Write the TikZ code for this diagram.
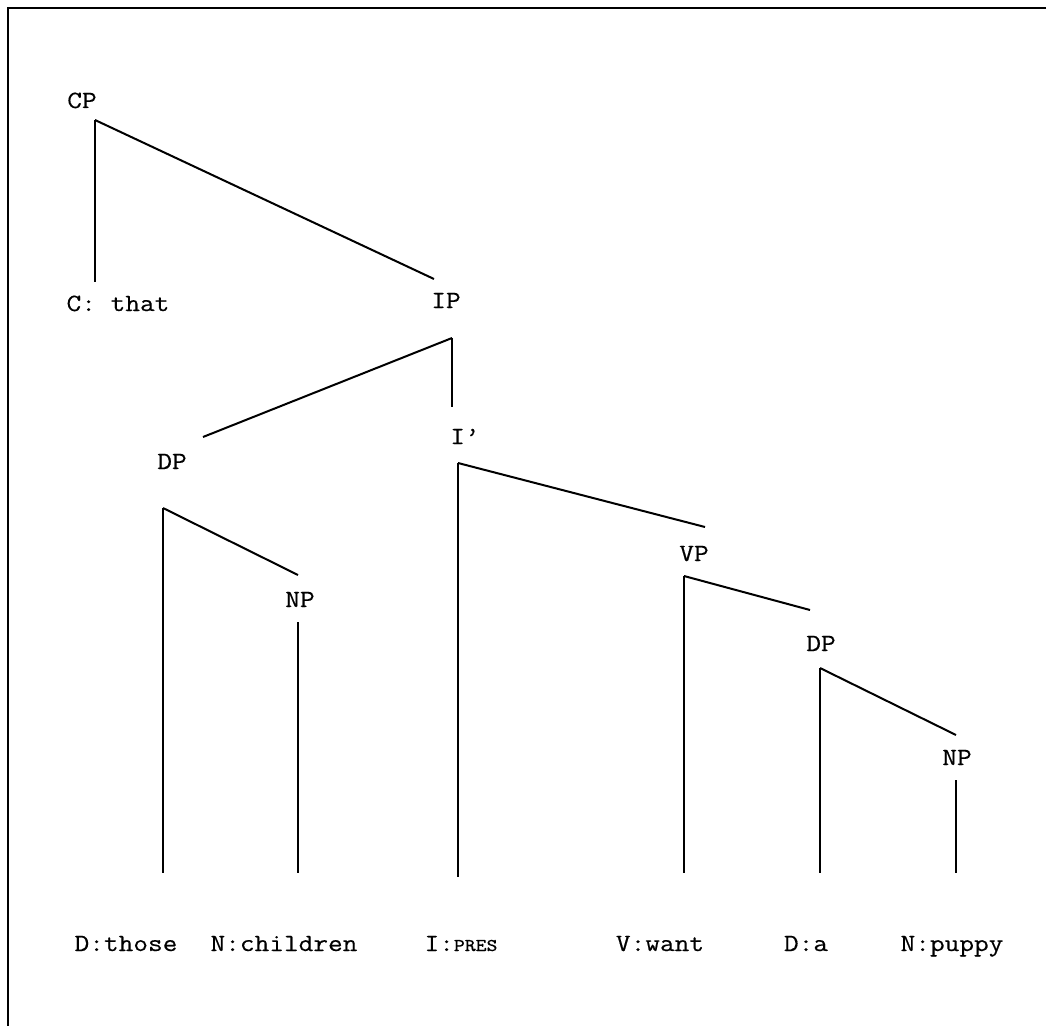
\documentclass[tikz,border=0pt]{standalone}
\usepackage{fontspec}
\setmonofont[FakeStretch=1.15,FakeBold=0.4]{Latin Modern Mono}
\newcommand{\pres}{{\fontsize{9}{10}\selectfont PRES}}

\begin{document}
\begin{tikzpicture}[x=0.5pt,y=-0.5pt,
  lbl/.style={font=\ttfamily\fontsize{12.4}{14}\selectfont, inner sep=0pt,
    text height=0.62em, text depth=0.22em},
  branch/.style={line width=1pt},
  stem/.style={line width=0.8pt}]
  \useasboundingbox (0,0) rectangle (1047,1026);
  \draw[line width=1.1pt] (1046,8) -- (8,8) -- (8,1026);
  % labels
  \node[lbl] (cp) at (82,104) {CP};
  \node[lbl] (cthat) at (118,307) {C: that};
  \node[lbl] (ip) at (446,304) {IP};
  \node[lbl] (dp1) at (172,465) {DP};
  \node[lbl] (ibar) at (465,440) {I’};
  \node[lbl] (np1) at (300,603) {NP};
  \node[lbl] (vp) at (694,557) {VP};
  \node[lbl] (dp2) at (821,647) {DP};
  \node[lbl] (np2) at (957,761) {NP};
  \node[lbl] (those) at (126,947) {D:those};
  \node[lbl] (children) at (284,947) {N:children};
  \node[lbl] (ipres) at (461,947) {I:\pres};
  \node[lbl] (want) at (660,947) {V:want};
  \node[lbl] (da) at (806,947) {D:a};
  \node[lbl] (puppy) at (952,947) {N:puppy};
  % branch points
  \coordinate (cpv) at (95,120);
  \coordinate (cthatt) at (95,282);
  \coordinate (ipt) at (434,279);
  \coordinate (ipv) at (452,338);
  \coordinate (dp1t) at (203,437);
  \coordinate (ibart) at (452,407);
  \coordinate (dp1v) at (163,508);
  \coordinate (thoset) at (163,873);
  \coordinate (np1t) at (298,575);
  \coordinate (np1b) at (298,622);
  \coordinate (childrent) at (298,873);
  \coordinate (ibarv) at (458,463);
  \coordinate (prest) at (458,877);
  \coordinate (vpt) at (705,527);
  \coordinate (vpv) at (684,576);
  \coordinate (wantt) at (684,873);
  \coordinate (dp2t) at (810,610);
  \coordinate (dp2v) at (820,668);
  \coordinate (dat) at (820,873);
  \coordinate (np2t) at (956,735);
  \coordinate (np2b) at (956,780);
  \coordinate (puppyt) at (956,873);
  % tree
  \draw[stem] (cpv) -- (cthatt);
  \draw[branch] (cpv) -- (ipt);
  \draw[branch] (ipv) -- (dp1t);
  \draw[stem] (ipv) -- (ibart);
  \draw[stem] (dp1v) -- (thoset);
  \draw[branch] (dp1v) -- (np1t);
  \draw[stem] (np1b) -- (childrent);
  \draw[stem] (ibarv) -- (prest);
  \draw[branch] (ibarv) -- (vpt);
  \draw[stem] (vpv) -- (wantt);
  \draw[branch] (vpv) -- (dp2t);
  \draw[stem] (dp2v) -- (dat);
  \draw[branch] (dp2v) -- (np2t);
  \draw[stem] (np2b) -- (puppyt);
\end{tikzpicture}
\end{document}
